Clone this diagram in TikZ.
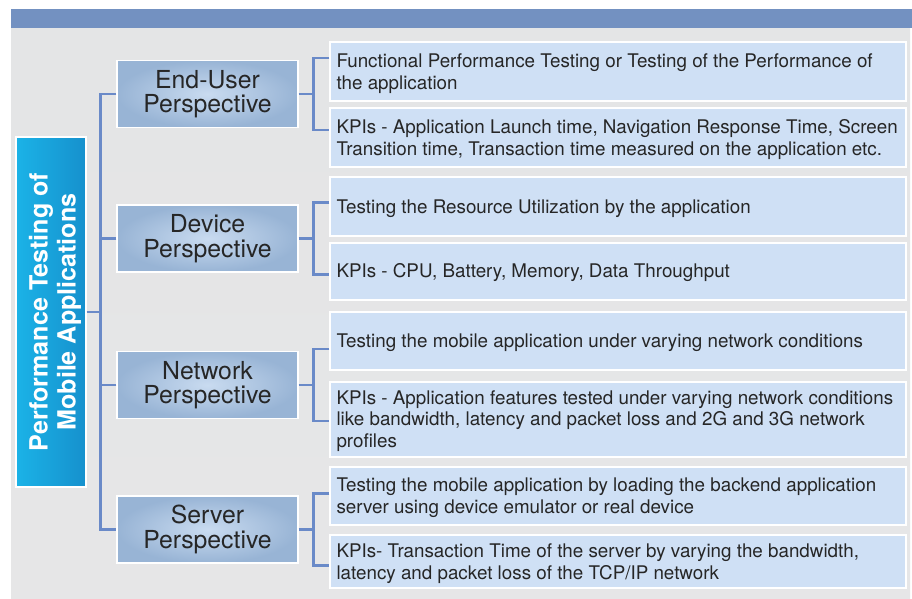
\documentclass[tikz,border=0pt]{standalone}
\usepackage{fontspec}
\setmainfont{TeX Gyre Heros}
\usetikzlibrary{calc}
\definecolor{bandcol}{HTML}{7391C1}
\definecolor{bgtop}{HTML}{E4E5E6}
\definecolor{bgmid}{HTML}{F5F5F5}
\definecolor{bgbot}{HTML}{E6E6E7}
\definecolor{conncol}{HTML}{6A8AC8}
\definecolor{leafcol}{HTML}{CFE0F5}
\definecolor{persin}{HTML}{C9DBF0}
\definecolor{persout}{HTML}{98B4D5}
\definecolor{rootl}{HTML}{1BB3E7}
\definecolor{rootr}{HTML}{1690CD}
\definecolor{txt}{HTML}{262626}
\begin{document}
\begin{tikzpicture}[x=1pt,y=-1pt,
  conn/.style={draw=conncol, line width=2.6pt},
  leafbox/.style={draw=white, line width=1.4pt, fill=leafcol,
    minimum width=576pt, inner sep=0pt},
  leaftext/.style={anchor=west, align=left, text=txt, inner sep=0pt,
    font=\fontsize{18.8}{21.8}\selectfont},
  persbox/.style={draw=white, line width=1.2pt, shading=radial,
    inner color=persin, outer color=persout,
    minimum width=181pt, minimum height=67pt, align=center, text=txt,
    font=\fontsize{24.8}{24.5}\selectfont},
  rootbox/.style={draw=white, line width=1.2pt, left color=rootl,
    right color=rootr, minimum width=70pt, minimum height=350pt},
  roottext/.style={rotate=90, align=center, text=white,
    font=\bfseries\fontsize{25.1}{28}\selectfont}]
\useasboundingbox (0,0) rectangle (912,598);
\fill[white] (0,0) rectangle (912,598);
% backdrop and title band
\shade[top color=bgtop, middle color=bgmid, bottom color=bgbot]
  (11,28) rectangle (910,598);
\fill[bandcol] (11,9) rectangle (912,28);

% root
\node[rootbox] (root) at (51,312) {};
\node[roottext] (roottxt) at ($(root.center)+(4,0)$)
  {Performance Testing of\\Mobile Applications};

% perspectives
\node[persbox] (eu)  at (207.5,94)    {End-User\\Perspective};
\node[persbox] (dev) at (207.5,238.5) {Device\\Perspective};
\node[persbox] (net) at (207.5,385)   {Network\\Perspective};
\node[persbox] (srv) at (207.5,529.5) {Server\\Perspective};

% detail boxes
\node[leafbox, minimum height=59pt] (l1) at (618,71.5)  {};
\node[leafbox, minimum height=59pt] (l2) at (618,137.5) {};
\node[leafbox, minimum height=59pt] (l3) at (618,206.5) {};
\node[leafbox, minimum height=57pt] (l4) at (618,271.5) {};
\node[leafbox, minimum height=58pt] (l5) at (618,341)   {};
\node[leafbox, minimum height=75pt] (l6) at (618,419.5) {};
\node[leafbox, minimum height=58pt] (l7) at (618,496)   {};
\node[leafbox, minimum height=53pt] (l8) at (618,561.5) {};

\node[leaftext] (t1) at ($(l1.west)+(7,2)$)
  {Functional Performance Testing or Testing of the Performance of\\the application};
\node[leaftext] (t2) at ($(l2.west)+(7,2)$)
  {KPIs - Application Launch time, Navigation Response Time, Screen\\Transition time, Transaction time measured on the application etc.};
\node[leaftext] (t3) at ($(l3.west)+(7,2)$)
  {Testing the Resource Utilization by the application};
\node[leaftext] (t4) at ($(l4.west)+(7,1.5)$)
  {KPIs - CPU, Battery, Memory, Data Throughput};
\node[leaftext] (t5) at ($(l5.west)+(7,2)$)
  {Testing the mobile application under varying network conditions};
\node[leaftext] (t6) at ($(l6.west)+(7,1.5)$)
  {KPIs - Application features tested under varying network conditions\\like bandwidth, latency and packet loss and 2G and 3G network\\profiles};
\node[leaftext] (t7) at ($(l7.west)+(7,2)$)
  {Testing the mobile application by loading the backend application\\server using device emulator or real device};
\node[leaftext] (t8) at ($(l8.west)+(7,2)$)
  {KPIs- Transaction Time of the server by varying the bandwidth,\\latency and packet loss of the TCP/IP network};

% trunk from the root to the perspectives
\coordinate (trtop) at ($(eu.west)+(-16,0)$);
\coordinate (trbot) at ($(srv.west)+(-16,0)$);
\draw[conn] (eu.west) -- (trtop) -- (trbot) -- (srv.west);
\draw[conn] (dev.west) -- (dev.west -| trtop);
\draw[conn] (net.west) -- (net.west -| trtop);
\draw[conn] (root.east) -- (root.east -| trtop);

% brackets from each perspective to its two details
\foreach \p/\a/\b in {eu/l1/l2, dev/l3/l4, net/l5/l6, srv/l7/l8} {
  \coordinate (\p-j) at ($(\p.east)+(15,0)$);
  \coordinate (\p-u) at ($(\p-j)+(0,-36)$);
  \coordinate (\p-d) at ($(\p-j)+(0,36)$);
  \draw[conn] (\p.east) -- (\p-j);
  \draw[conn] (\a.west |- \p-u) -- (\p-u) -- (\p-d) -- (\b.west |- \p-d);
}
\end{tikzpicture}
\end{document}
